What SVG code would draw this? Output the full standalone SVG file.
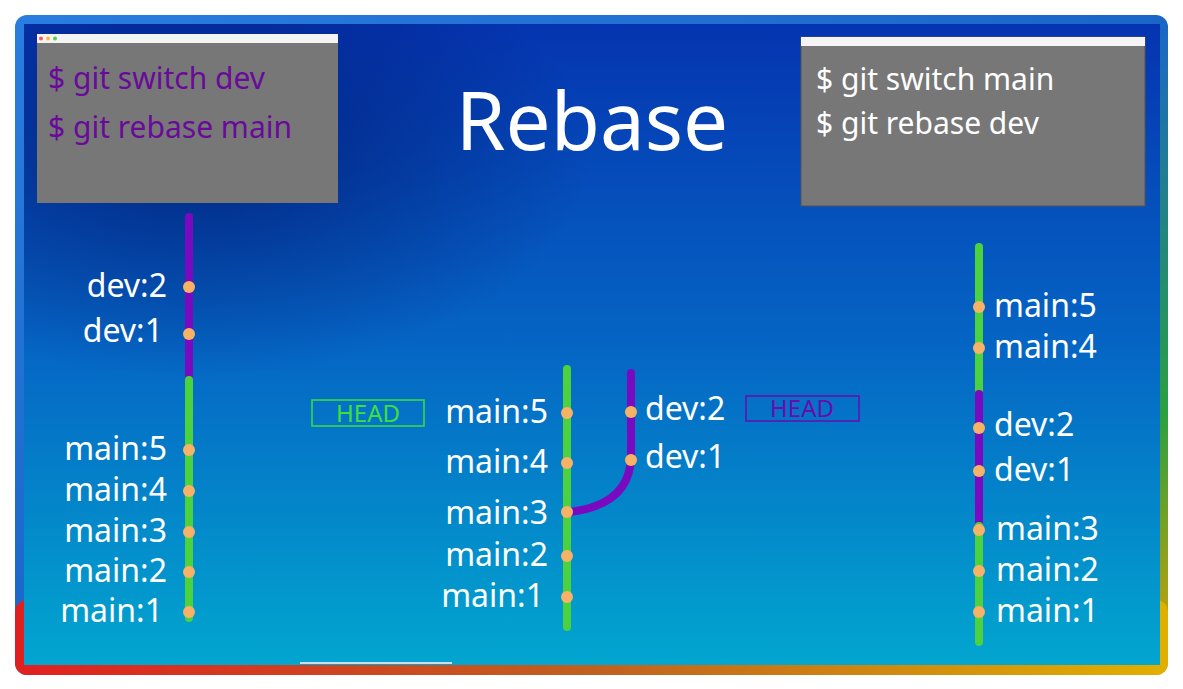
<svg xmlns="http://www.w3.org/2000/svg" width="1183" height="689" viewBox="0 0 1183 689">
<defs>
<linearGradient id="frame" x1="0" y1="0" x2="1" y2="1">
<stop offset="0" stop-color="#2a7de0"/><stop offset="0.5" stop-color="#1a66c8"/><stop offset="0.8" stop-color="#2aa040"/><stop offset="1" stop-color="#e0a000"/>
</linearGradient>
<linearGradient id="frameB" x1="0" y1="0" x2="1" y2="0">
<stop offset="0" stop-color="#e02020"/><stop offset="0.5" stop-color="#c06020"/><stop offset="1" stop-color="#e0b000"/>
</linearGradient>
<linearGradient id="bg" x1="0" y1="0" x2="0" y2="1">
<stop offset="0" stop-color="#0534b0"/><stop offset="0.5" stop-color="#0565c4"/><stop offset="1" stop-color="#02a6cf"/>
</linearGradient>
<radialGradient id="shade" cx="0.15" cy="0.2" r="0.35">
<stop offset="0" stop-color="#001060" stop-opacity="0.6"/><stop offset="1" stop-color="#001060" stop-opacity="0"/>
</radialGradient>
<style>
.lbl{font-family:"Noto Sans","Open Sans",sans-serif;font-size:32px;fill:#fff}
.cmd{font-family:"Noto Sans","Open Sans",sans-serif;font-size:30px}
.dot{fill:#f7b266}
.g{stroke:#4cd23e;stroke-width:8;stroke-linecap:round;fill:none}
.p{stroke:#7a0ac0;stroke-width:8;stroke-linecap:round;fill:none}
.term{fill:#777}
.bar{fill:#f4f4f4}
</style>
</defs>
<rect x="0" y="0" width="1183" height="689" fill="#fff"/>
<rect x="15" y="15" width="1153" height="660" rx="12" fill="url(#frame)"/>
<rect x="15" y="600" width="1153" height="75" rx="12" fill="url(#frameB)"/>
<rect x="24" y="24" width="1136" height="641" fill="url(#bg)"/>
<rect x="24" y="24" width="1136" height="641" fill="url(#shade)"/>
<line x1="300" y1="663" x2="452" y2="663" stroke="#cde" stroke-width="2"/>

<g id="term-left">
<rect class="term" x="37" y="34" width="301" height="169"/>
<rect class="bar" x="37" y="34" width="301" height="9"/>
<circle cx="41" cy="38.5" r="2" fill="#f55"/><circle cx="48" cy="38.5" r="2" fill="#fb3"/><circle cx="55" cy="38.5" r="2" fill="#5c5"/>
<text class="cmd" x="48" y="89" fill="#6a0a9a">$ git switch dev</text>
<text class="cmd" x="48" y="138" fill="#6a0a9a">$ git rebase main</text>
</g>
<g id="term-right">
<rect class="term" x="801" y="37" width="344" height="169" stroke="#555" stroke-width="1"/>
<rect class="bar" x="801" y="37" width="344" height="9"/>
<text class="cmd" x="816" y="90" fill="#fff">$ git switch main</text>
<text class="cmd" x="816" y="134" fill="#fff">$ git rebase dev</text>
</g>
<text id="title" x="592" y="150" text-anchor="middle" font-family="Noto Sans, Open Sans, sans-serif" font-size="80" fill="#fff">Rebase</text>

<g id="connectors">
<line class="p" x1="189" y1="217" x2="189" y2="376"/>
<line class="g" x1="189" y1="380" x2="189" y2="618"/>
<line class="g" x1="567" y1="369" x2="567" y2="627"/>
<path class="p" d="M631 373 V455 Q631 505 569 512"/>
<line class="g" x1="979" y1="247" x2="979" y2="390"/>
<line class="p" x1="979" y1="394" x2="979" y2="522"/>
<line class="g" x1="979" y1="526" x2="979" y2="642"/>
</g>

<g id="left-graph" class="lbl" text-anchor="end">
<circle class="dot" cx="189" cy="287" r="6"/><text x="167" y="297">dev:2</text>
<circle class="dot" cx="189" cy="334" r="6"/><text x="163" y="342">dev:1</text>
<circle class="dot" cx="189" cy="450" r="6"/><text x="167" y="460">main:5</text>
<circle class="dot" cx="189" cy="491" r="6"/><text x="167" y="501">main:4</text>
<circle class="dot" cx="189" cy="532" r="6"/><text x="167" y="542">main:3</text>
<circle class="dot" cx="189" cy="572" r="6"/><text x="167" y="582">main:2</text>
<circle class="dot" cx="189" cy="612" r="6"/><text x="163" y="622">main:1</text>
</g>

<g id="mid-graph" class="lbl">
<circle class="dot" cx="567" cy="413" r="6"/><text x="548" y="423" text-anchor="end">main:5</text>
<circle class="dot" cx="567" cy="463" r="6"/><text x="548" y="473" text-anchor="end">main:4</text>
<circle class="dot" cx="567" cy="512" r="6"/><text x="548" y="524" text-anchor="end">main:3</text>
<circle class="dot" cx="567" cy="556" r="6"/><text x="548" y="566" text-anchor="end">main:2</text>
<circle class="dot" cx="567" cy="597" r="6"/><text x="544" y="607" text-anchor="end">main:1</text>
<circle class="dot" cx="631" cy="412" r="6"/><text x="645" y="420">dev:2</text>
<circle class="dot" cx="631" cy="460" r="6"/><text x="645" y="468">dev:1</text>
</g>
<g id="head-main">
<rect x="312" y="400" width="112" height="26" fill="none" stroke="#3de03d" stroke-width="1.5"/>
<text x="368" y="422" text-anchor="middle" font-family="Noto Sans, sans-serif" font-size="24" fill="#3de03d">HEAD</text>
</g>
<g id="head-dev">
<rect x="746" y="396" width="113" height="25" fill="none" stroke="#6a0ab0" stroke-width="1.5"/>
<text x="802" y="417" text-anchor="middle" font-family="Noto Sans, sans-serif" font-size="24" fill="#6a0ab0">HEAD</text>
</g>

<g id="right-graph" class="lbl">
<circle class="dot" cx="979" cy="307" r="6"/><text x="994" y="317">main:5</text>
<circle class="dot" cx="979" cy="348" r="6"/><text x="994" y="358">main:4</text>
<circle class="dot" cx="979" cy="428" r="6"/><text x="994" y="436">dev:2</text>
<circle class="dot" cx="979" cy="471" r="6"/><text x="994" y="481">dev:1</text>
<circle class="dot" cx="979" cy="530" r="6"/><text x="996" y="540">main:3</text>
<circle class="dot" cx="979" cy="571" r="6"/><text x="996" y="581">main:2</text>
<circle class="dot" cx="979" cy="612" r="6"/><text x="996" y="622">main:1</text>
</g>
</svg>
